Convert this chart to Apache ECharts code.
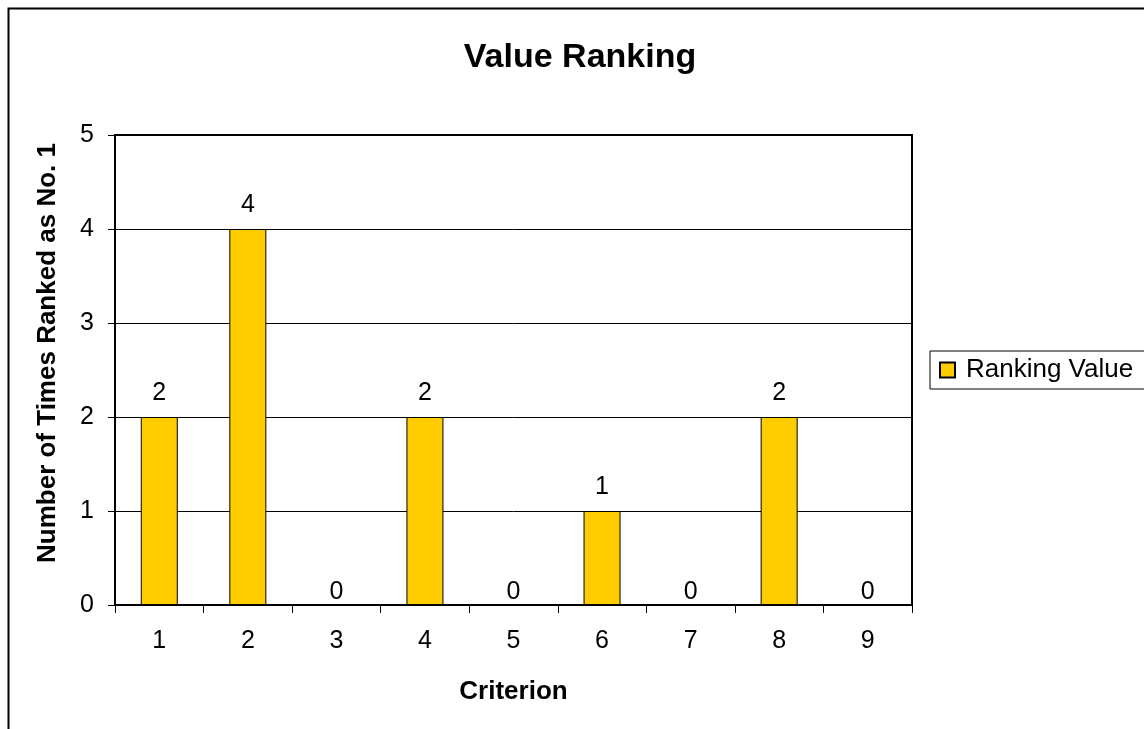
<!DOCTYPE html>
<html>
<head>
<meta charset="utf-8">
<script src="https://cdn.jsdelivr.net/npm/echarts@6/dist/echarts.min.js"></script>
<style>
html, body { margin: 0; padding: 0; background: #fff; }
#main { width: 1144px; height: 729px; }
</style>
</head>
<body>
<div id="main"></div>
<script>
// data
const criteria = ['1', '2', '3', '4', '5', '6', '7', '8', '9'];
const rankingValues = [2, 4, 0, 2, 0, 1, 0, 2, 0];
const yTicks = [0, 1, 2, 3, 4, 5];

const font = 'Liberation Sans, Arial, sans-serif';

// zero bars get their label sitting right on the axis, like the original
const barData = rankingValues.map(v => v === 0 ? { value: v, label: { distance: 0 } } : v);

const chart = echarts.init(document.getElementById('main'));
chart.setOption({
    animation: false,
    backgroundColor: '#fff',
    textStyle: { fontFamily: font },
    title: {
        text: 'Value Ranking', left: 575, top: 36, textAlign: 'center',
        textStyle: { fontFamily: font, fontSize: 34, fontWeight: 'bold', color: '#000' }
    },
    graphic: [{
        type: 'rect', left: 6, top: 6, silent: true,
        shape: { width: 1200, height: 800 },
        style: { fill: 'none', stroke: '#000', lineWidth: 2 }
    }],
    legend: {
        data: ['Ranking Value'], left: 930, top: 351, orient: 'vertical',
        borderColor: '#000', borderWidth: 1, padding: [6, 14, 6, 9],
        icon: 'rect', itemWidth: 15, itemHeight: 15, itemGap: 0,
        textStyle: { fontFamily: font, fontSize: 26, color: '#000', padding: [0, 0, 0, 6] }
    },
    grid: {
        left: 115, top: 135, right: 232, bottom: 124,
        show: true, borderColor: '#000', borderWidth: 2, containLabel: false
    },
    xAxis: {
        type: 'category', data: criteria,
        name: 'Criterion', nameLocation: 'middle', nameGap: 74,
        nameTextStyle: { fontFamily: font, fontSize: 26, fontWeight: 'bold', color: '#000' },
        axisLine: { lineStyle: { color: '#000', width: 2 } },
        axisTick: { show: true, length: 8, lineStyle: { color: '#000' } },
        axisLabel: { fontFamily: font, fontSize: 25, color: '#000', margin: 24 }
    },
    yAxis: {
        type: 'value', min: yTicks[0], max: yTicks[yTicks.length - 1], interval: 1,
        name: 'Number of Times Ranked as No. 1', nameLocation: 'middle', nameGap: 54,
        nameTextStyle: {
            fontFamily: font, fontSize: 26, fontWeight: 'bold', color: '#000',
            padding: [0, 0, 0, 34]
        },
        axisLine: { show: true, lineStyle: { color: '#000', width: 2 } },
        axisTick: { show: true, length: 7, lineStyle: { color: '#000' } },
        axisLabel: { fontFamily: font, fontSize: 25, color: '#000', margin: 21 },
        splitLine: { show: true, lineStyle: { color: '#000', width: 1 } }
    },
    series: [{
        name: 'Ranking Value', type: 'bar', data: barData, barWidth: 37,
        itemStyle: { color: '#FFCC00', borderColor: '#000', borderWidth: 1 },
        label: {
            show: true, position: 'top', distance: 11,
            fontFamily: font, fontSize: 25, color: '#000'
        }
    }]
});
</script>
</body>
</html>
